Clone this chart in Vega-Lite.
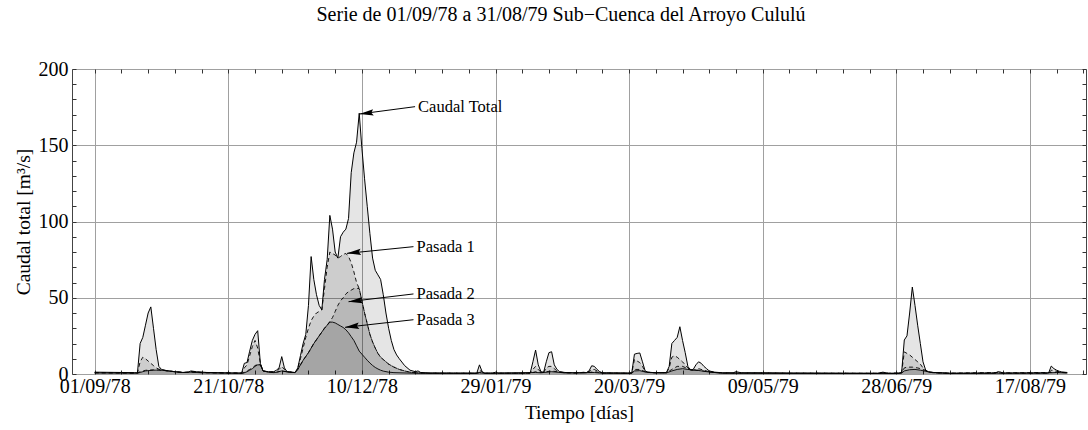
{
  "$schema": "https://vega.github.io/schema/vega-lite/v6.json",
  "width": 1014,
  "height": 305,
  "autosize": "none",
  "padding": {"left": 72, "top": 69, "right": 2, "bottom": 56},
  "background": "white",
  "config": {
    "font": "Liberation Serif",
    "view": {"stroke": "#444", "strokeWidth": 1},
    "axis": {
      "labelFont": "Liberation Serif", "titleFont": "Liberation Serif",
      "labelFontSize": 20, "titleFontSize": 19.5, "labelColor": "black", "titleColor": "black",
      "titleFontWeight": "normal", "tickColor": "#333", "tickWidth": 1, "domain": false,
      "labelOverlap": false, "labelFlush": false
    }
  },
  "title": {
    "text": "Serie de 01/09/78 a 31/08/79 Sub−Cuenca del Arroyo Cululú",
    "font": "Liberation Serif", "fontSize": 20, "fontWeight": "normal", "color": "black",
    "anchor": "middle", "offset": 34, "dx": -18
  },
  "datasets": {
    "total": [
      {"dia":0,"caudal":1.2},{"dia":5,"caudal":1.1},{"dia":10,"caudal":1.0},{"dia":15,"caudal":0.9},{"dia":16,"caudal":0.8},
      {"dia":17,"caudal":20},{"dia":18,"caudal":24},{"dia":19,"caudal":32},{"dia":20,"caudal":40},{"dia":21,"caudal":44},
      {"dia":22,"caudal":30},{"dia":23,"caudal":16},{"dia":24,"caudal":5},{"dia":25,"caudal":3},{"dia":27,"caudal":2.2},
      {"dia":30,"caudal":1.5},{"dia":33,"caudal":1},{"dia":35,"caudal":1.2},{"dia":36,"caudal":2},{"dia":38,"caudal":1.5},
      {"dia":42,"caudal":1},{"dia":48,"caudal":0.8},{"dia":52,"caudal":0.7},{"dia":55,"caudal":0.7},{"dia":56,"caudal":7},
      {"dia":57,"caudal":7.5},{"dia":58,"caudal":15},{"dia":59,"caudal":22},{"dia":60,"caudal":26},{"dia":61,"caudal":28.4},
      {"dia":62,"caudal":7},{"dia":63,"caudal":2},{"dia":65,"caudal":1.5},{"dia":67,"caudal":1.5},{"dia":68,"caudal":2.5},
      {"dia":69,"caudal":4},{"dia":70,"caudal":11.4},{"dia":71,"caudal":4},{"dia":72,"caudal":1.5},{"dia":74,"caudal":1},
      {"dia":75,"caudal":1},{"dia":76,"caudal":4},{"dia":77,"caudal":12},{"dia":78,"caudal":20},{"dia":79,"caudal":26},
      {"dia":80,"caudal":45},{"dia":81,"caudal":77},{"dia":82,"caudal":62},{"dia":83,"caudal":52},{"dia":84,"caudal":45},
      {"dia":85,"caudal":42},{"dia":86,"caudal":62},{"dia":87,"caudal":75},{"dia":88,"caudal":104},{"dia":89,"caudal":95},
      {"dia":90,"caudal":80},{"dia":91,"caudal":76},{"dia":92,"caudal":90},{"dia":93,"caudal":93},{"dia":94,"caudal":95},
      {"dia":95,"caudal":102},{"dia":96,"caudal":132},{"dia":97,"caudal":145},{"dia":98,"caudal":152},{"dia":99,"caudal":171},
      {"dia":100,"caudal":148},{"dia":101,"caudal":128},{"dia":102,"caudal":110},{"dia":103,"caudal":92},{"dia":104,"caudal":76},
      {"dia":105,"caudal":68},{"dia":106,"caudal":65},{"dia":107,"caudal":62},{"dia":108,"caudal":52},{"dia":109,"caudal":40},
      {"dia":110,"caudal":30},{"dia":111,"caudal":22},{"dia":112,"caudal":16},{"dia":113,"caudal":12.5},{"dia":114,"caudal":10},
      {"dia":116,"caudal":5.5},{"dia":118,"caudal":2.5},{"dia":120,"caudal":1.5},{"dia":121,"caudal":2},{"dia":122,"caudal":1},
      {"dia":125,"caudal":0.7},{"dia":135,"caudal":0.6},{"dia":143,"caudal":0.6},{"dia":144,"caudal":6},{"dia":145,"caudal":1.5},
      {"dia":146,"caudal":0.6},{"dia":149,"caudal":0.6},{"dia":150,"caudal":1.2},{"dia":151,"caudal":0.6},{"dia":160,"caudal":0.6},
      {"dia":163,"caudal":0.7},{"dia":164,"caudal":8},{"dia":165,"caudal":15.7},{"dia":166,"caudal":6},{"dia":167,"caudal":1.5},
      {"dia":168,"caudal":1},{"dia":169,"caudal":8},{"dia":170,"caudal":14},{"dia":171,"caudal":14.6},{"dia":172,"caudal":6},
      {"dia":173,"caudal":3},{"dia":174,"caudal":1.5},{"dia":176,"caudal":1},{"dia":180,"caudal":0.7},{"dia":184,"caudal":0.8},
      {"dia":185,"caudal":2},{"dia":186,"caudal":5.4},{"dia":187,"caudal":5},{"dia":188,"caudal":3},{"dia":189,"caudal":1.5},
      {"dia":190,"caudal":0.8},{"dia":200,"caudal":0.6},{"dia":201,"caudal":0.8},{"dia":202,"caudal":13},{"dia":203,"caudal":13.5},
      {"dia":204,"caudal":13.8},{"dia":205,"caudal":8},{"dia":206,"caudal":2},{"dia":207,"caudal":1.2},{"dia":210,"caudal":0.8},
      {"dia":214,"caudal":1},{"dia":215,"caudal":5},{"dia":216,"caudal":20},{"dia":217,"caudal":22},{"dia":218,"caudal":24},
      {"dia":219,"caudal":31},{"dia":220,"caudal":22},{"dia":221,"caudal":14},{"dia":222,"caudal":5},{"dia":223,"caudal":2.5},
      {"dia":224,"caudal":3},{"dia":225,"caudal":6},{"dia":226,"caudal":8},{"dia":227,"caudal":7},{"dia":228,"caudal":5},
      {"dia":229,"caudal":3.5},{"dia":230,"caudal":2},{"dia":232,"caudal":1.2},{"dia":235,"caudal":0.8},{"dia":239,"caudal":0.8},
      {"dia":240,"caudal":1.5},{"dia":242,"caudal":0.8},{"dia":250,"caudal":0.8},{"dia":260,"caudal":0.6},{"dia":280,"caudal":0.5},
      {"dia":293,"caudal":0.5},{"dia":295,"caudal":1.2},{"dia":297,"caudal":0.5},{"dia":301,"caudal":0.5},{"dia":302,"caudal":1},
      {"dia":303,"caudal":22.3},{"dia":304,"caudal":25},{"dia":305,"caudal":40},{"dia":306,"caudal":57},{"dia":307,"caudal":45},
      {"dia":308,"caudal":32},{"dia":309,"caudal":20},{"dia":310,"caudal":8},{"dia":311,"caudal":2.5},{"dia":312,"caudal":1.5},
      {"dia":314,"caudal":1},{"dia":320,"caudal":0.6},{"dia":337,"caudal":0.6},{"dia":338,"caudal":1.5},{"dia":339,"caudal":1.3},
      {"dia":340,"caudal":0.6},{"dia":357,"caudal":0.6},{"dia":358,"caudal":5.2},{"dia":359,"caudal":3.5},{"dia":360,"caudal":2.5},
      {"dia":361,"caudal":1.8},{"dia":362,"caudal":1.3},{"dia":364,"caudal":1}
    ],
    "p1": [
      {"dia":0,"caudal":0.9},{"dia":16,"caudal":0.7},{"dia":17,"caudal":8},{"dia":18,"caudal":11},{"dia":19,"caudal":10},
      {"dia":20,"caudal":8.5},{"dia":21,"caudal":7},{"dia":22,"caudal":5.5},{"dia":23,"caudal":4},{"dia":24,"caudal":3.2},
      {"dia":25,"caudal":2.8},{"dia":27,"caudal":2.1},{"dia":30,"caudal":1.5},{"dia":33,"caudal":1},{"dia":35,"caudal":1.1},
      {"dia":36,"caudal":1.6},{"dia":38,"caudal":1.3},{"dia":42,"caudal":0.9},{"dia":55,"caudal":0.6},{"dia":56,"caudal":4},
      {"dia":57,"caudal":6},{"dia":58,"caudal":12},{"dia":59,"caudal":18},{"dia":60,"caudal":22},{"dia":61,"caudal":17},
      {"dia":62,"caudal":7},{"dia":63,"caudal":2},{"dia":65,"caudal":1.4},{"dia":67,"caudal":1.2},{"dia":68,"caudal":2},
      {"dia":69,"caudal":3},{"dia":70,"caudal":5},{"dia":71,"caudal":3},{"dia":72,"caudal":1.5},{"dia":75,"caudal":1},
      {"dia":76,"caudal":3.5},{"dia":77,"caudal":10},{"dia":78,"caudal":17},{"dia":79,"caudal":24},{"dia":80,"caudal":30},
      {"dia":81,"caudal":35},{"dia":82,"caudal":38},{"dia":83,"caudal":40},{"dia":84,"caudal":41},{"dia":85,"caudal":42},
      {"dia":86,"caudal":56},{"dia":87,"caudal":70},{"dia":88,"caudal":80},{"dia":89,"caudal":79},{"dia":90,"caudal":78},
      {"dia":91,"caudal":76},{"dia":92,"caudal":77},{"dia":93,"caudal":78.5},{"dia":94,"caudal":79},{"dia":95,"caudal":77},
      {"dia":96,"caudal":73},{"dia":97,"caudal":67},{"dia":98,"caudal":60},{"dia":99,"caudal":56},{"dia":100,"caudal":48},
      {"dia":101,"caudal":40},{"dia":102,"caudal":33},{"dia":103,"caudal":26},{"dia":104,"caudal":21},{"dia":105,"caudal":17},
      {"dia":106,"caudal":13.5},{"dia":107,"caudal":11},{"dia":108,"caudal":9.5},{"dia":110,"caudal":6.5},{"dia":112,"caudal":4.5},
      {"dia":114,"caudal":3},{"dia":116,"caudal":2},{"dia":118,"caudal":1.2},{"dia":120,"caudal":0.8},{"dia":125,"caudal":0.6},
      {"dia":143,"caudal":0.5},{"dia":144,"caudal":2.5},{"dia":145,"caudal":1.2},{"dia":146,"caudal":0.5},{"dia":160,"caudal":0.5},
      {"dia":163,"caudal":0.6},{"dia":164,"caudal":3},{"dia":165,"caudal":5},{"dia":166,"caudal":3},{"dia":167,"caudal":1.2},
      {"dia":168,"caudal":1},{"dia":169,"caudal":4},{"dia":170,"caudal":5},{"dia":171,"caudal":5},{"dia":172,"caudal":3.5},
      {"dia":173,"caudal":2},{"dia":174,"caudal":1.2},{"dia":176,"caudal":0.9},{"dia":180,"caudal":0.6},{"dia":185,"caudal":1.5},
      {"dia":186,"caudal":3},{"dia":187,"caudal":3},{"dia":188,"caudal":2},{"dia":189,"caudal":1.2},{"dia":190,"caudal":0.7},
      {"dia":200,"caudal":0.5},{"dia":201,"caudal":0.7},{"dia":202,"caudal":9.5},{"dia":203,"caudal":8.5},{"dia":204,"caudal":7.5},
      {"dia":205,"caudal":5},{"dia":206,"caudal":1.8},{"dia":207,"caudal":1.1},{"dia":210,"caudal":0.7},{"dia":214,"caudal":0.9},
      {"dia":215,"caudal":4},{"dia":216,"caudal":11},{"dia":217,"caudal":12},{"dia":218,"caudal":11},{"dia":219,"caudal":9.5},
      {"dia":220,"caudal":8},{"dia":221,"caudal":6},{"dia":222,"caudal":4},{"dia":223,"caudal":2.5},{"dia":224,"caudal":2.6},
      {"dia":225,"caudal":3},{"dia":226,"caudal":3.5},{"dia":228,"caudal":2.5},{"dia":230,"caudal":1.5},{"dia":232,"caudal":1},
      {"dia":235,"caudal":0.7},{"dia":250,"caudal":0.6},{"dia":293,"caudal":0.5},{"dia":295,"caudal":0.8},{"dia":297,"caudal":0.5},
      {"dia":302,"caudal":0.9},{"dia":303,"caudal":14.5},{"dia":304,"caudal":13.5},{"dia":305,"caudal":12.5},{"dia":306,"caudal":11},
      {"dia":307,"caudal":9.5},{"dia":308,"caudal":8},{"dia":309,"caudal":6.5},{"dia":310,"caudal":4},{"dia":311,"caudal":2.2},
      {"dia":312,"caudal":1.4},{"dia":314,"caudal":0.9},{"dia":320,"caudal":0.5},{"dia":338,"caudal":1},{"dia":340,"caudal":0.5},
      {"dia":357,"caudal":0.5},{"dia":358,"caudal":2.5},{"dia":359,"caudal":2.3},{"dia":360,"caudal":1.8},{"dia":362,"caudal":1.1},
      {"dia":364,"caudal":0.9}
    ],
    "p2": [
      {"dia":0,"caudal":0.8},{"dia":16,"caudal":0.6},{"dia":17,"caudal":1.5},{"dia":18,"caudal":2},{"dia":19,"caudal":2.4},
      {"dia":20,"caudal":2.6},{"dia":22,"caudal":2.7},{"dia":24,"caudal":2.6},{"dia":26,"caudal":2.3},{"dia":30,"caudal":1.5},
      {"dia":33,"caudal":1},{"dia":36,"caudal":1.3},{"dia":40,"caudal":0.9},{"dia":55,"caudal":0.5},{"dia":56,"caudal":1},
      {"dia":57,"caudal":2},{"dia":58,"caudal":3},{"dia":59,"caudal":4},{"dia":60,"caudal":5.5},{"dia":61,"caudal":6.5},
      {"dia":62,"caudal":6},{"dia":63,"caudal":2},{"dia":65,"caudal":1.3},{"dia":67,"caudal":1},{"dia":68,"caudal":1.2},
      {"dia":70,"caudal":2},{"dia":72,"caudal":1.5},{"dia":75,"caudal":1},{"dia":76,"caudal":3},{"dia":77,"caudal":6},
      {"dia":78,"caudal":9},{"dia":79,"caudal":11.5},{"dia":80,"caudal":14},{"dia":81,"caudal":17},{"dia":82,"caudal":20},
      {"dia":83,"caudal":22.5},{"dia":84,"caudal":25},{"dia":85,"caudal":27.5},{"dia":86,"caudal":30},{"dia":87,"caudal":32},
      {"dia":88,"caudal":34.5},{"dia":89,"caudal":37},{"dia":90,"caudal":41},{"dia":91,"caudal":45},{"dia":92,"caudal":48},
      {"dia":93,"caudal":50},{"dia":94,"caudal":52.5},{"dia":95,"caudal":54},{"dia":96,"caudal":55},{"dia":97,"caudal":56},
      {"dia":98,"caudal":56.2},{"dia":99,"caudal":56},{"dia":100,"caudal":48},{"dia":101,"caudal":40},{"dia":102,"caudal":33},
      {"dia":103,"caudal":26},{"dia":104,"caudal":21},{"dia":105,"caudal":17},{"dia":106,"caudal":13.5},{"dia":107,"caudal":11},
      {"dia":108,"caudal":9.5},{"dia":110,"caudal":6.5},{"dia":112,"caudal":4.5},{"dia":114,"caudal":3},{"dia":116,"caudal":2},
      {"dia":118,"caudal":1.2},{"dia":120,"caudal":0.8},{"dia":125,"caudal":0.5},{"dia":143,"caudal":0.5},{"dia":144,"caudal":1},
      {"dia":146,"caudal":0.5},{"dia":163,"caudal":0.5},{"dia":165,"caudal":1.5},{"dia":167,"caudal":1},{"dia":169,"caudal":1.5},
      {"dia":171,"caudal":2},{"dia":173,"caudal":1.5},{"dia":176,"caudal":0.8},{"dia":185,"caudal":1},{"dia":187,"caudal":1.5},
      {"dia":189,"caudal":1},{"dia":190,"caudal":0.6},{"dia":200,"caudal":0.5},{"dia":201,"caudal":0.6},{"dia":202,"caudal":3},
      {"dia":204,"caudal":3},{"dia":206,"caudal":1.5},{"dia":208,"caudal":1},{"dia":214,"caudal":0.8},{"dia":216,"caudal":3},
      {"dia":218,"caudal":5},{"dia":220,"caudal":5},{"dia":222,"caudal":3.5},{"dia":224,"caudal":2.5},{"dia":226,"caudal":2.5},
      {"dia":230,"caudal":1.3},{"dia":235,"caudal":0.6},{"dia":300,"caudal":0.4},{"dia":302,"caudal":0.8},{"dia":303,"caudal":4},
      {"dia":304,"caudal":4.5},{"dia":306,"caudal":4.5},{"dia":308,"caudal":4},{"dia":310,"caudal":3},{"dia":312,"caudal":1.3},
      {"dia":314,"caudal":0.8},{"dia":320,"caudal":0.4},{"dia":358,"caudal":1},{"dia":360,"caudal":1.2},{"dia":364,"caudal":0.8}
    ],
    "p3": [
      {"dia":0,"caudal":0.7},{"dia":16,"caudal":0.5},{"dia":17,"caudal":1},{"dia":18,"caudal":1.5},{"dia":19,"caudal":2},
      {"dia":20,"caudal":2.2},{"dia":22,"caudal":2.5},{"dia":24,"caudal":2.6},{"dia":26,"caudal":2.3},{"dia":30,"caudal":1.5},
      {"dia":33,"caudal":1},{"dia":36,"caudal":1.2},{"dia":40,"caudal":0.8},{"dia":55,"caudal":0.4},{"dia":56,"caudal":0.8},
      {"dia":57,"caudal":1.5},{"dia":58,"caudal":2.5},{"dia":59,"caudal":3.5},{"dia":60,"caudal":5},{"dia":61,"caudal":6},
      {"dia":62,"caudal":6},{"dia":63,"caudal":2},{"dia":65,"caudal":1.2},{"dia":67,"caudal":0.9},{"dia":68,"caudal":1.1},
      {"dia":70,"caudal":2},{"dia":72,"caudal":1.4},{"dia":75,"caudal":0.9},{"dia":76,"caudal":3},{"dia":77,"caudal":6},
      {"dia":78,"caudal":9},{"dia":79,"caudal":11.5},{"dia":80,"caudal":14},{"dia":81,"caudal":17},{"dia":82,"caudal":20},
      {"dia":83,"caudal":22.5},{"dia":84,"caudal":25},{"dia":85,"caudal":27.5},{"dia":86,"caudal":30},{"dia":87,"caudal":32},
      {"dia":88,"caudal":34},{"dia":89,"caudal":34},{"dia":90,"caudal":33.5},{"dia":91,"caudal":32.5},{"dia":92,"caudal":31.5},
      {"dia":93,"caudal":30.5},{"dia":94,"caudal":29},{"dia":95,"caudal":27},{"dia":96,"caudal":24.5},{"dia":97,"caudal":22},
      {"dia":98,"caudal":18.5},{"dia":99,"caudal":15},{"dia":100,"caudal":13},{"dia":101,"caudal":11},{"dia":102,"caudal":9},
      {"dia":103,"caudal":7.2},{"dia":104,"caudal":5.6},{"dia":105,"caudal":4.3},{"dia":106,"caudal":3.3},{"dia":107,"caudal":2.5},
      {"dia":108,"caudal":1.9},{"dia":110,"caudal":1.2},{"dia":112,"caudal":0.9},{"dia":118,"caudal":0.6},{"dia":125,"caudal":0.4},
      {"dia":143,"caudal":0.4},{"dia":144,"caudal":0.8},{"dia":146,"caudal":0.4},{"dia":165,"caudal":1},{"dia":167,"caudal":0.8},
      {"dia":171,"caudal":1.5},{"dia":173,"caudal":1.2},{"dia":176,"caudal":0.7},{"dia":187,"caudal":1},{"dia":190,"caudal":0.5},
      {"dia":201,"caudal":0.5},{"dia":202,"caudal":2},{"dia":204,"caudal":2.2},{"dia":206,"caudal":1.3},{"dia":208,"caudal":0.9},
      {"dia":214,"caudal":0.7},{"dia":216,"caudal":2},{"dia":218,"caudal":3},{"dia":220,"caudal":3.5},{"dia":222,"caudal":3},
      {"dia":224,"caudal":2.5},{"dia":226,"caudal":2.3},{"dia":230,"caudal":1.3},{"dia":235,"caudal":0.5},{"dia":300,"caudal":0.3},
      {"dia":302,"caudal":0.6},{"dia":303,"caudal":2},{"dia":305,"caudal":2.8},{"dia":307,"caudal":3},{"dia":309,"caudal":2.5},
      {"dia":311,"caudal":1.8},{"dia":313,"caudal":1},{"dia":320,"caudal":0.3},{"dia":358,"caudal":0.8},{"dia":360,"caudal":1},
      {"dia":364,"caudal":0.7}
    ],
    "notas": [
      {"texto":"Caudal Total","dia":99.1,"caudal":170.5,"dia_cola":119.9,"caudal_cola":175.3},
      {"texto":"Pasada 1","dia":94.4,"caudal":79.1,"dia_cola":119.3,"caudal_cola":83.5},
      {"texto":"Pasada 2","dia":95.0,"caudal":47.4,"dia_cola":119.3,"caudal_cola":52.5},
      {"texto":"Pasada 3","dia":93.7,"caudal":30.6,"dia_cola":119.3,"caudal_cola":35.6}
    ]
  },
  "encoding": {
    "x": {"field": "dia", "type": "quantitative", "scale": {"domain": [-8.5, 371], "nice": false, "zero": false}, "axis": null},
    "y": {"field": "caudal", "type": "quantitative", "scale": {"domain": [0, 200], "nice": false, "zero": true}, "axis": null}
  },
  "layer": [
    {
      "data": {"name": "total"},
      "mark": {"type": "area", "color": "black", "fillOpacity": 0.1, "strokeWidth": 0},
      "encoding": {
        "x": {
          "field": "dia", "type": "quantitative",
          "scale": {"domain": [-8.5, 371], "nice": false, "zero": false},
          "axis": {
            "orient": "bottom",
            "values": [0,10,20,30,40,50,60,70,80,90,100,110,120,130,140,150,160,170,180,190,200,210,220,230,240,250,260,270,280,290,300,310,320,330,340,350,360,370],
            "labelExpr": "datum.value % 50 === 0 ? timeFormat(datetime(1978, 8, 1 + datum.value), '%d/%m/%y') : ''",
            "tickSize": -4, "labelPadding": 6,
            "gridColor": {"condition": {"test": "datum.value % 50 === 0", "value": "#a0a0a0"}, "value": "rgba(0,0,0,0)"},
            "title": "Tiempo [días]", "titlePadding": 7
          }
        },
        "y": {
          "field": "caudal", "type": "quantitative",
          "scale": {"domain": [0, 200], "nice": false, "zero": true},
          "axis": {
            "orient": "left",
            "values": [0,10,20,30,40,50,60,70,80,90,100,110,120,130,140,150,160,170,180,190,200],
            "labelExpr": "datum.value % 50 === 0 ? datum.label : ''",
            "tickSize": -4, "labelPadding": 8,
            "gridColor": {"condition": {"test": "datum.value % 50 === 0", "value": "#a0a0a0"}, "value": "rgba(0,0,0,0)"},
            "title": "Caudal total [m³/s]", "titlePadding": 5
          }
        }
      }
    },
    {"data": {"name": "p1"}, "mark": {"type": "area", "color": "black", "fillOpacity": 0.1, "strokeWidth": 0}},
    {"data": {"name": "p2"}, "mark": {"type": "area", "color": "black", "fillOpacity": 0.1, "strokeWidth": 0}},
    {"data": {"name": "p3"}, "mark": {"type": "area", "color": "black", "fillOpacity": 0.1, "strokeWidth": 0}},
    {"data": {"name": "total"}, "mark": {"type": "line", "color": "black", "strokeWidth": 1}},
    {"data": {"name": "p1"}, "mark": {"type": "line", "color": "black", "strokeWidth": 0.9, "strokeDash": [4, 3]}},
    {"data": {"name": "p2"}, "mark": {"type": "line", "color": "black", "strokeWidth": 0.9, "strokeDash": [4, 3]}},
    {"data": {"name": "p3"}, "mark": {"type": "line", "color": "black", "strokeWidth": 0.9}},
    {
      "data": {"name": "notas"},
      "mark": {"type": "rule", "color": "black", "strokeWidth": 1},
      "encoding": {
        "x": {"field": "dia_cola", "type": "quantitative", "scale": {"domain": [-8.5, 371], "nice": false, "zero": false}, "axis": null},
        "y": {"field": "caudal_cola", "type": "quantitative", "scale": {"domain": [0, 200], "nice": false, "zero": true}, "axis": null},
        "x2": {"field": "dia"},
        "y2": {"field": "caudal"}
      }
    },
    {
      "data": {"name": "notas"},
      "mark": {"type": "point", "shape": "M 0 0 L 2 -0.45 L 1.7 0 L 2 0.45 Z", "filled": true, "color": "black", "opacity": 1, "size": 196, "angle": -6.5}
    },
    {
      "data": {"name": "notas"},
      "mark": {"type": "text", "align": "left", "baseline": "middle", "dx": 3, "font": "Liberation Serif", "fontSize": 16.5, "color": "black"},
      "encoding": {
        "x": {"field": "dia_cola", "type": "quantitative", "scale": {"domain": [-8.5, 371], "nice": false, "zero": false}, "axis": null},
        "y": {"field": "caudal_cola", "type": "quantitative", "scale": {"domain": [0, 200], "nice": false, "zero": true}, "axis": null},
        "text": {"field": "texto"}
      }
    },
    {
      "data": {"name": "total"},
      "mark": {"type": "line", "opacity": 0},
      "encoding": {
        "x": {
          "field": "dia", "type": "quantitative",
          "scale": {"domain": [-8.5, 371], "nice": false, "zero": false},
          "axis": {
            "orient": "top",
            "values": [0,10,20,30,40,50,60,70,80,90,100,110,120,130,140,150,160,170,180,190,200,210,220,230,240,250,260,270,280,290,300,310,320,330,340,350,360,370],
            "labels": false, "grid": false, "tickSize": -4, "title": null
          }
        },
        "y": {
          "field": "caudal", "type": "quantitative",
          "scale": {"domain": [0, 200], "nice": false, "zero": true},
          "axis": {
            "orient": "right",
            "values": [0,10,20,30,40,50,60,70,80,90,100,110,120,130,140,150,160,170,180,190,200],
            "labels": false, "grid": false, "tickSize": -4, "title": null
          }
        }
      }
    }
  ],
  "resolve": {"axis": {"x": "independent", "y": "independent"}}
}
